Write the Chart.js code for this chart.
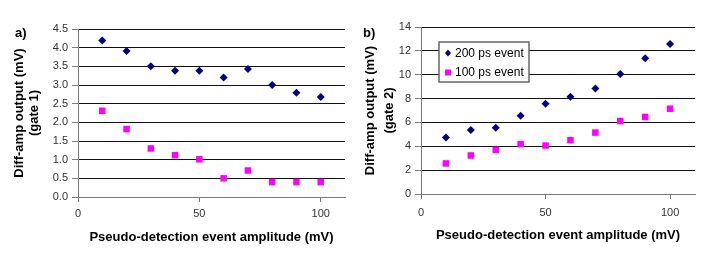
<!DOCTYPE html>
<html>
<head>
<meta charset="utf-8">
<script src="https://cdn.jsdelivr.net/npm/chart.js@4.4.1/dist/chart.umd.min.js"></script>
<style>
  body { margin: 0; background: #fff; width: 708px; height: 257px; overflow: hidden; position: relative;
         font-family: "Liberation Sans", Arial, sans-serif; }
  .box { position: absolute; top: 0; width: 354px; height: 257px; }
  .tag { position: absolute; font-weight: bold; font-size: 13px; }
</style>
</head>
<body>
<div class="box" style="left:0"><canvas id="chartA"></canvas></div>
<div class="box" style="left:354px"><canvas id="chartB"></canvas></div>
<div class="tag" style="left:15px; top:25px">a)</div>
<div class="tag" style="left:363px; top:25px">b)</div>

<script>
/* ================= DATA ================= */
const amplitude   = [10, 20, 30, 40, 50, 60, 70, 80, 90, 100];
const gate1_200ps = [4.19, 3.91, 3.50, 3.38, 3.38, 3.20, 3.43, 3.00, 2.79, 2.68];
const gate1_100ps = [2.31, 1.82, 1.30, 1.12, 1.01, 0.50, 0.71, 0.40, 0.40, 0.40];
const gate2_200ps = [4.73, 5.37, 5.56, 6.57, 7.57, 8.15, 8.85, 10.07, 11.39, 12.58];
const gate2_100ps = [2.56, 3.23, 3.70, 4.18, 4.06, 4.51, 5.15, 6.12, 6.46, 7.15];

const seriesNames = ["200 ps event", "100 ps event"];
const xTitle  = "Pseudo-detection event amplitude (mV)";
const yTitleA = ["Diff-amp output (mV)", "(gate 1)"];
const yTitleB = ["Diff-amp output (mV)", "(gate 2)"];

/* ================= STYLE ================= */
const FONT  = '"Liberation Sans", Arial, sans-serif';
const NAVY  = "#000080";
const PINK  = "#ff00ff";
const AXIS  = "#7a7a7a";

const pts = (xs, ys) => xs.map((x, i) => ({ x, y: ys[i] }));

// legend box drawn inside the plot area (chart b only)
const boxLegend = {
  id: "boxLegend",
  afterDatasetsDraw(chart, args, opts) {
    if (!opts.show) return;
    const { ctx, chartArea } = chart;
    const x = chartArea.left + 18, y = chartArea.top + 15, w = 90, h = 40;
    ctx.save();
    ctx.fillStyle = "#fff";
    ctx.fillRect(x, y, w, h);
    ctx.strokeStyle = "#666";
    ctx.lineWidth = 1.5;
    ctx.strokeRect(x, y, w, h);
    ctx.font = "12px " + FONT;
    ctx.textBaseline = "middle";
    chart.data.datasets.forEach((ds, i) => {
      const cx = x + 9, cy = y + 11 + i * 19.5;
      ctx.fillStyle = ds.backgroundColor;
      ctx.beginPath();
      if (ds.pointStyle === "rectRot") {
        ctx.moveTo(cx, cy - 3.5); ctx.lineTo(cx + 3, cy);
        ctx.lineTo(cx, cy + 3.5); ctx.lineTo(cx - 3, cy);
        ctx.closePath();
      } else {
        ctx.rect(cx - 3, cy - 3, 6, 6);
      }
      ctx.fill();
      ctx.fillStyle = "#000";
      ctx.fillText(ds.label, x + 16, cy + 0.5);
    });
    ctx.restore();
  }
};

function makeChart(id, s200, s100, yTitle, yTicks, g) {
  return new Chart(document.getElementById(id), {
    type: "scatter",
    data: {
      datasets: [
        { label: seriesNames[0], data: pts(amplitude, s200), pointStyle: "rectRot",
          pointRadius: 4, borderWidth: 0, backgroundColor: NAVY, borderColor: NAVY },
        { label: seriesNames[1], data: pts(amplitude, s100), pointStyle: "rect",
          pointRadius: 4.6, borderWidth: 0, backgroundColor: PINK, borderColor: PINK }
      ]
    },
    options: {
      responsive: true,
      maintainAspectRatio: false,
      animation: false,
      layout: { padding: g.pad },
      plugins: {
        legend: { display: false },
        tooltip: { enabled: false },
        boxLegend: { show: g.legend }
      },
      scales: {
        x: {
          type: "linear", min: 0, max: 110,
          afterFit: s => { s.height = g.xH; },
          ticks: { stepSize: 50, includeBounds: false, padding: g.xTickPad,
                   color: "#333", font: { family: FONT, size: 11 } },
          grid: { drawOnChartArea: false, tickLength: 5, tickColor: AXIS },
          border: { color: AXIS, width: 1 },
          title: { display: true, text: xTitle, color: "#000",
                   font: { family: FONT, size: 13, weight: "bold", lineHeight: 1.2 },
                   padding: { top: 0, bottom: g.xTitlePad } }
        },
        y: {
          min: yTicks.min, max: yTicks.max,
          afterFit: s => { s.width = g.yW; },
          ticks: { stepSize: yTicks.step, padding: 4, color: "#333",
                   font: { family: FONT, size: 11 }, callback: yTicks.fmt },
          grid: { color: "#111", lineWidth: 1, tickLength: 6, tickColor: AXIS },
          border: { color: AXIS, width: 1 },
          title: { display: true, text: yTitle, color: "#000",
                   font: { family: FONT, size: 13, weight: "bold", lineHeight: g.yLH },
                   padding: { top: g.yTitlePad, bottom: 0 } }
        }
      }
    },
    plugins: [boxLegend]
  });
}

/* ================= CHARTS ================= */
makeChart("chartA", gate1_200ps, gate1_100ps, yTitleA,
  { min: 0, max: 4.5, step: 0.5, fmt: v => v.toFixed(1) },
  { pad: { left: 4, top: 29, right: 9, bottom: 8 }, yW: 74, xH: 52,
    xTickPad: 5, xTitlePad: 4, yLH: 1.12, yTitlePad: 8.5, legend: false });

makeChart("chartB", gate2_200ps, gate2_100ps, yTitleB,
  { min: 0, max: 14, step: 2, fmt: v => v },
  { pad: { left: 2, top: 27, right: 13, bottom: 8 }, yW: 65, xH: 55,
    xTickPad: 7, xTitlePad: 5.5, yLH: 1.5, yTitlePad: 4.5, legend: true });
</script>
</body>
</html>
